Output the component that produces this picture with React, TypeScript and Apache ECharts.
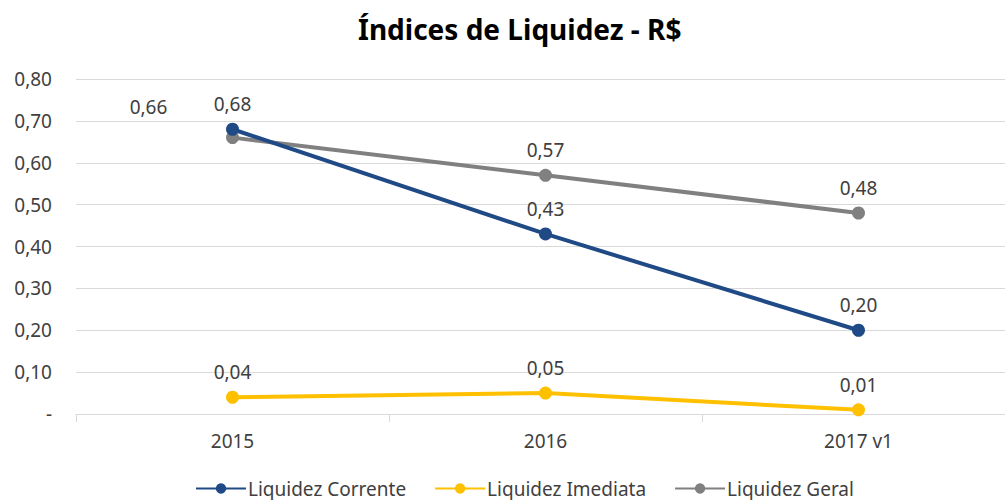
import React, { useEffect, useRef } from "react";
import * as echarts from "echarts";

const categories = ["2015", "2016", "2017 v1"];
const corrente = [0.68, 0.43, 0.2];
const imediata = [0.04, 0.05, 0.01];
const geral = [0.66, 0.57, 0.48];
const seriesNames = ["Liquidez Corrente", "Liquidez Imediata", "Liquidez Geral"];
const colors = ["#1F4A85", "#FFC000", "#808080"];

const FONT = "Noto Sans";
const fmt = (v: number) => (v === 0 ? "-" : v.toFixed(2).replace(".", ","));

export default function App() {
  const ref = useRef<HTMLDivElement>(null);
  useEffect(() => {
    const chart = echarts.init(ref.current!, undefined, { renderer: "svg" });
    const mk = (name: string, data: number[], color: string, z: number) => ({
      name,
      type: "line",
      data: data.map((v, i) =>
        name === "Liquidez Geral" && i === 0
          ? { value: v, label: { offset: [-84, -6] } }
          : v
      ),
      z,
      symbol: "circle",
      symbolSize: 13,
      lineStyle: { width: 4, color },
      itemStyle: { color },
      label: {
        show: true,
        position: "top",
        distance: 9,
        color: "#404040",
        fontFamily: FONT,
        fontSize: 19,
        formatter: (p: any) => fmt(p.value),
      },
    });
    chart.setOption({
      animation: false,
      title: {
        text: "Índices de Liquidez - R$",
        left: 353,
        top: 10,
        textStyle: { fontFamily: FONT, fontSize: 28, fontWeight: "bold", color: "#000" },
      },
      legend: {
        bottom: -3,
        left: 190,
        itemGap: 28,
        itemWidth: 50,
        itemHeight: 13,
        textStyle: { fontFamily: FONT, fontSize: 19, color: "#404040", padding: [0, 0, 0, -3] },
        data: seriesNames,
      },
      grid: {
        left: 76,
        width: 939,
        top: 79,
        bottom: 86,
        containLabel: false,
        outerBoundsMode: "none",
      },
      xAxis: {
        type: "category",
        data: categories,
        boundaryGap: true,
        axisLine: { lineStyle: { color: "#d9d9d9", width: 1 } },
        axisTick: { show: true, length: 8, lineStyle: { color: "#d9d9d9" } },
        axisLabel: { fontFamily: FONT, fontSize: 19, color: "#404040", margin: 17 },
      },
      yAxis: {
        type: "value",
        min: 0,
        max: 0.8,
        interval: 0.1,
        axisLine: { show: false },
        axisTick: { show: false },
        splitLine: { lineStyle: { color: "#d9d9d9" } },
        axisLabel: {
          fontFamily: FONT,
          fontSize: 19,
          color: "#404040",
          margin: 24,
          formatter: fmt,
        },
      },
      series: [
        mk(seriesNames[2], geral, colors[2], 2),
        mk(seriesNames[1], imediata, colors[1], 2),
        mk(seriesNames[0], corrente, colors[0], 3),
      ],
    });
    return () => chart.dispose();
  }, []);
  return (
    <div
      ref={ref}
      style={{ position: "absolute", left: 0, top: 0, width: 1005, height: 500 }}
    />
  );
}
